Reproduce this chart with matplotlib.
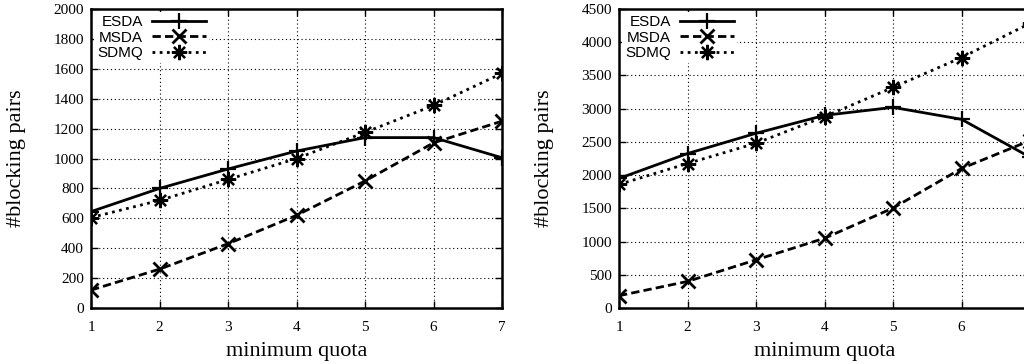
import numpy as np
import matplotlib as mpl
import matplotlib.pyplot as plt

# minimum quota values on the x axis
quota = [1, 2, 3, 4, 5, 6, 7]

# left panel
esda_a = [645, 800, 930, 1050, 1140, 1140, 1005]
msda_a = [120, 260, 430, 620, 850, 1105, 1250]
sdmq_a = [605, 720, 860, 1000, 1175, 1355, 1570]

# right panel (x=7 falls outside the picture)
esda_b = [1950, 2325, 2630, 2900, 3020, 2840, 2270]
msda_b = [185, 400, 725, 1050, 1505, 2100, 2520]
sdmq_b = [1860, 2175, 2480, 2880, 3320, 3770, 4285]

series_names = ['ESDA', 'MSDA', 'SDMQ']

mpl.rcParams['font.family'] = ['Liberation Serif', 'DejaVu Serif']

fig = plt.figure(figsize=(10.24, 3.64), dpi=100)

styles = [
    dict(ls='-', marker='+', ms=12, mew=1.6),
    dict(ls=(0, (3, 1.5)), marker='x', ms=10, mew=2),
    dict(ls=(0, (1, 1.6)), marker=(8, 2, 0), ms=11, mew=1.6),
]


def draw(ax, data, ymax, ystep):
    for vals, name, st in zip(data, series_names, styles):
        ax.plot(quota, vals, color='black', lw=2, label=name, **st)
    ax.set_xlim(1, 7)
    ax.set_ylim(0, ymax)
    ax.set_xticks(quota)
    ax.set_yticks(np.arange(0, ymax + 1, ystep))
    ax.grid(True, color='black', lw=0.8, ls=(0, (1, 2.5)))
    ax.tick_params(direction='in', length=5, width=1, top=True, right=True,
                   labelsize=11)
    ax.tick_params(axis='x', pad=9)
    ax.tick_params(axis='y', pad=5)
    for sp in ax.spines.values():
        sp.set_linewidth(1.8)
    ax.set_xlabel('minimum quota', fontsize=16, va='center')
    ax.set_ylabel('#blocking pairs', fontsize=16, va='center')
    ax.xaxis.set_label_coords(0.5, -0.147)
    ax.yaxis.set_label_coords(-0.182, 0.5)
    leg = ax.legend(loc='upper left', markerfirst=False, frameon=True,
                    fancybox=False, edgecolor='none', framealpha=1,
                    handlelength=3.5, handletextpad=0.6, labelspacing=0.1,
                    borderaxespad=0.2, borderpad=0.2,
                    prop={'family': 'Liberation Sans', 'size': 11})
    for t in leg.get_texts():
        t.set_ha('right')


ax1 = fig.add_axes([0.0889, 0.1538, 0.4014, 0.8214])
draw(ax1, [esda_a, msda_a, sdmq_a], 2000, 200)

ax2 = fig.add_axes([0.6045, 0.1538, 0.4014, 0.8214])
draw(ax2, [esda_b, msda_b, sdmq_b], 4500, 500)
# the right panel runs past the picture edge, its last tick label is not shown
ax2.set_xticklabels([str(q) for q in quota[:-1]] + [''])

fig.savefig('out.png', dpi=100)
